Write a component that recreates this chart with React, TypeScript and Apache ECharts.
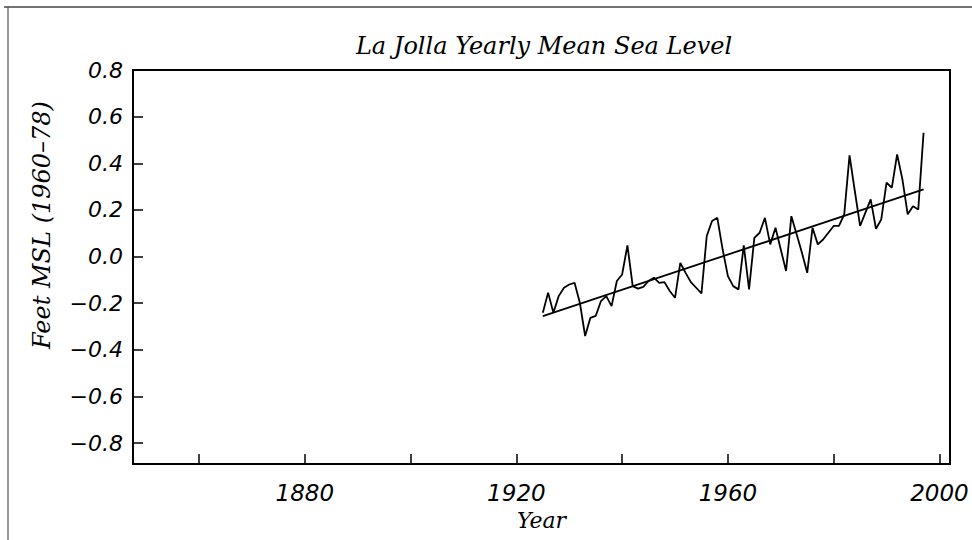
import React, { useEffect, useRef } from "react";
import * as echarts from "echarts";

const years = [
  1925, 1926, 1927, 1928, 1929, 1930, 1931, 1932, 1933, 1934,
  1935, 1936, 1937, 1938, 1939, 1940, 1941, 1942, 1943, 1944,
  1945, 1946, 1947, 1948, 1949, 1950, 1951, 1952, 1953, 1954,
  1955, 1956, 1957, 1958, 1959, 1960, 1961, 1962, 1963, 1964,
  1965, 1966, 1967, 1968, 1969, 1970, 1971, 1972, 1973, 1974,
  1975, 1976, 1977, 1978, 1979, 1980, 1981, 1982, 1983, 1984,
  1985, 1986, 1987, 1988, 1989, 1990, 1991, 1992, 1993, 1994,
  1995, 1996, 1997,
];

const seaLevel = [
  -0.241, -0.155, -0.241, -0.17, -0.134, -0.12, -0.113, -0.198, -0.341, -0.263,
  -0.255, -0.191, -0.17, -0.213, -0.105, -0.077, 0.048, -0.127, -0.138, -0.13,
  -0.105, -0.091, -0.113, -0.11, -0.148, -0.177, -0.027, -0.07, -0.11, -0.134,
  -0.158, 0.088, 0.152, 0.166, 0.031, -0.084, -0.127, -0.141, 0.048, -0.141,
  0.08, 0.102, 0.166, 0.052, 0.123, 0.03, -0.062, 0.173, 0.095, 0.016,
  -0.07, 0.123, 0.052, 0.073, 0.102, 0.131, 0.131, 0.181, 0.434, 0.281,
  0.131, 0.188, 0.245, 0.119, 0.159, 0.317, 0.295, 0.438, 0.331, 0.181,
  0.216, 0.202, 0.531,
];

const trendYears = [1925, 1997];
const trendValues = [-0.256, 0.288];

const xTickValues = [1860, 1880, 1900, 1920, 1940, 1960, 1980, 2000];
const xLabelValues = [1880, 1920, 1960, 2000];
const yTickValues = [-0.8, -0.6, -0.4, -0.2, 0.0, 0.2, 0.4, 0.6, 0.8];

const titleText = "La Jolla Yearly Mean Sea Level";
const xAxisName = "Year";
const yAxisName = "Feet MSL (1960\u201378)";

const serif = "'DejaVu Serif', 'Liberation Serif', serif";
const sans = "'DejaVu Sans', 'Liberation Sans', sans-serif";

export default function App() {
  const ref = useRef<HTMLDivElement>(null);

  useEffect(() => {
    if (!ref.current) return;
    const chart = echarts.init(ref.current, undefined, { renderer: "svg" });
    const option: any = {
      animation: false,
      backgroundColor: "#ffffff",
      title: {
        text: titleText,
        left: 539,
        top: 29,
        textAlign: "center",
        textStyle: {
          fontFamily: serif,
          fontStyle: "italic",
          fontWeight: "normal",
          fontSize: 24,
          color: "#000",
        },
      },
      grid: {
        left: 133,
        right: 22,
        top: 70,
        bottom: 76,
        show: true,
        borderColor: "#000",
        borderWidth: 2,
        backgroundColor: "transparent",
      },
      xAxis: {
        type: "value",
        min: 1847.5,
        max: 2002,
        name: xAxisName,
        nameLocation: "middle",
        nameGap: 45,
        nameTextStyle: {
          fontFamily: serif,
          fontStyle: "italic",
          fontSize: 22,
          color: "#000",
        },
        splitLine: { show: false },
        axisLine: { show: true, onZero: false, lineStyle: { color: "#000", width: 2 } },
        axisTick: {
          show: true,
          inside: true,
          length: 10,
          customValues: xTickValues,
          lineStyle: { color: "#000", width: 1.5 },
        },
        axisLabel: {
          show: true,
          customValues: xLabelValues,
          margin: 17,
          fontFamily: sans,
          fontStyle: "italic",
          fontSize: 23,
          color: "#000",
          formatter: (v: number) => String(v),
        },
      },
      yAxis: {
        type: "value",
        min: -0.89,
        max: 0.8,
        splitLine: { show: false },
        axisLine: { show: true, onZero: false, lineStyle: { color: "#000", width: 2 } },
        axisTick: {
          show: true,
          inside: true,
          length: 10,
          customValues: yTickValues,
          lineStyle: { color: "#000", width: 1.5 },
        },
        axisLabel: {
          show: true,
          customValues: yTickValues,
          margin: 10,
          fontFamily: sans,
          fontStyle: "italic",
          fontSize: 22,
          color: "#000",
          formatter: (v: number) => v.toFixed(1).replace("-", "\u2212"),
        },
      },
      graphic: [
        {
          type: "line",
          shape: { x1: 4, y1: 7, x2: 972, y2: 7 },
          style: { stroke: "#444", lineWidth: 1.5 },
          silent: true,
        },
        {
          type: "line",
          shape: { x1: 8, y1: 7, x2: 8, y2: 540 },
          style: { stroke: "#555", lineWidth: 1.2 },
          silent: true,
        },
        {
          type: "text",
          x: 42,
          y: 225,
          rotation: Math.PI / 2,
          style: {
            text: yAxisName,
            fontFamily: serif,
            fontStyle: "italic",
            fontSize: 24,
            fill: "#000",
            align: "center",
            verticalAlign: "middle",
          },
          silent: true,
        },
      ],
      series: [
        {
          type: "line",
          data: years.map((y, i) => [y, seaLevel[i]]),
          showSymbol: false,
          symbol: "none",
          lineStyle: { color: "#000", width: 1.8 },
          z: 3,
        },
        {
          type: "line",
          data: trendYears.map((y, i) => [y, trendValues[i]]),
          showSymbol: false,
          symbol: "none",
          lineStyle: { color: "#000", width: 1.8 },
          z: 4,
        },
      ],
    };
    chart.setOption(option);
    return () => chart.dispose();
  }, []);

  return (
    <div
      ref={ref}
      style={{ position: "fixed", left: 0, top: 0, width: 972, height: 540, background: "#fff" }}
    />
  );
}
